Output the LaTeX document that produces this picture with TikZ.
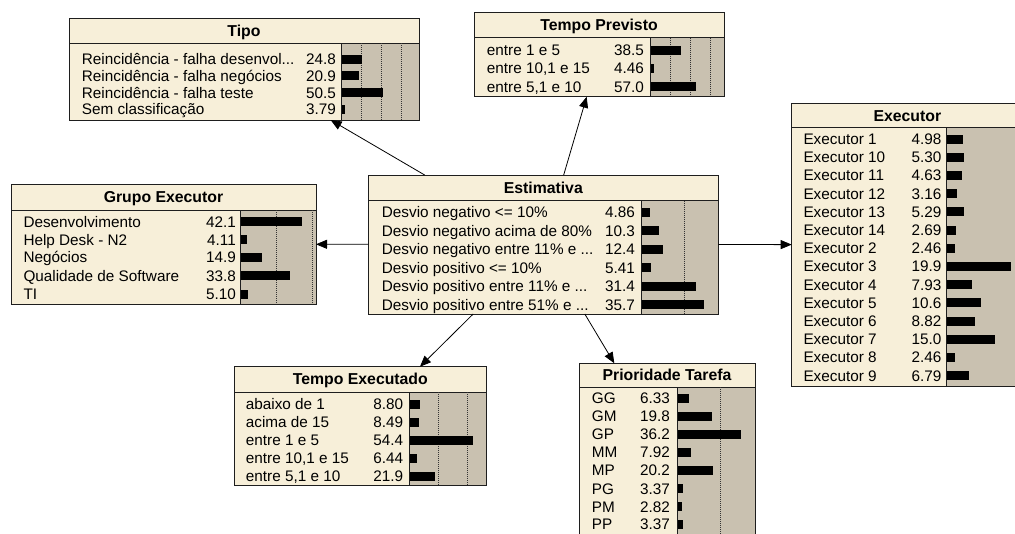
\documentclass[tikz,border=0pt]{standalone}
\usepackage{fontspec}
\setmainfont{Liberation Sans}
\usetikzlibrary{arrows.meta}
\definecolor{cream}{RGB}{247,239,217}
\definecolor{bargray}{RGB}{201,193,176}
\definecolor{edgec}{RGB}{30,30,30}
\newcommand\nbRowFont{\fontsize{15.3}{18}\selectfont}
\newcommand\nbTitleFont{\fontsize{15.8}{18}\selectfont\bfseries}
\tikzset{
  boxnode/.style={fill=cream, inner sep=0pt, outer sep=0pt, anchor=north west},
  rulel/.style={draw=edgec, line width=0.9pt},
  gridl/.style={draw=black!80, line width=0.7pt, dash pattern=on 1pt off 1pt},
  lbl/.style={anchor=base west, inner sep=0pt, font=\nbRowFont},
  numl/.style={anchor=base east, inner sep=0pt, font=\nbRowFont},
  ttl/.style={anchor=base, inner sep=0pt, font=\nbTitleFont},
  arr/.style={draw=black, line width=0.8pt, -{Triangle[length=11pt,width=9pt]}},
}
% #1 name, #2 L, #3 T, #4 R, #5 B, #6 sep, #7 bar start, #8 title
\newcommand\nbox[8]{%
  \node[boxnode, minimum width={(#4-#2)*1pt}, minimum height={(#5-#3)*1pt}] (#1) at (#2,#3) {};
  \fill[bargray] (#7,#6) rectangle (#4,#5);
  \draw[rulel] (#2,#6) -- (#4,#6);
  \draw[rulel] (#7,#6) -- (#7,#5);
  \node[ttl] (#1-title) at ({(#2+#4)/2},{(#3+#6)/2+5.6}) {#8};
}
% #1 name, #2 label x, #3 number x, #4 bar x, #5 row y, #6 label, #7 number, #8 bar length
\newcommand\brow[8]{%
  \node[lbl] (#1-l) at (#2,{#5+5.5}) {#6};
  \node[numl] (#1-n) at (#3,{#5+5.5}) {#7};
  \fill[black] (#4,{#5-4.5}) rectangle ++(#8,9);
}
\newcommand\nborder[1]{\draw[rulel] (#1.north west) rectangle (#1.south east);}
\begin{document}
\begin{tikzpicture}[x=1pt,y=-1pt]
\useasboundingbox (0,0) rectangle (1015,533);
\clip (0,0) rectangle (1015,533);
\fill[white] (0,0) rectangle (1015,533);

% Tipo
\nbox{tipo}{69}{18.3}{419}{120}{43.3}{341.7}{Tipo}
\foreach \g in {361.7,381.7,401.7} \draw[gridl] (\g,43.3) -- (\g,120);
\brow{tipo1}{81.7}{336}{342.2}{59.3}{Reincidência - falha desenvol...}{24.8}{19.8}
\brow{tipo2}{81.7}{336}{342.2}{75.9}{Reincidência - falha negócios}{20.9}{16.7}
\brow{tipo3}{81.7}{336}{342.2}{92.5}{Reincidência - falha teste}{50.5}{40.4}
\brow{tipo4}{81.7}{336}{342.2}{109}{Sem classificação}{3.79}{3.0}
\nborder{tipo}

% Tempo Previsto
\nbox{tprev}{474}{12.7}{724}{96.7}{37.7}{650}{Tempo Previsto}
\foreach \g in {670,690,710} \draw[gridl] (\g,37.7) -- (\g,96.7);
\brow{tprev1}{486.7}{644}{650.5}{50}{entre 1 e 5}{38.5}{30.8}
\brow{tprev2}{486.7}{644}{650.5}{68.3}{entre 10,1 e 15}{4.46}{3.6}
\brow{tprev3}{486.7}{644}{650.5}{86.7}{entre 5,1 e 10}{57.0}{45.6}
\nborder{tprev}

% Grupo Executor
\nbox{grupo}{11}{184}{316}{304.3}{210}{240}{Grupo Executor}
\foreach \g in {276.5,312.5} \draw[gridl] (\g,210) -- (\g,304.3);
\brow{grupo1}{23.3}{236}{240.5}{221.7}{Desenvolvimento}{42.1}{61.5}
\brow{grupo2}{23.3}{236}{240.5}{239.5}{Help Desk - N2}{4.11}{6.0}
\brow{grupo3}{23.3}{236}{240.5}{257.3}{Negócios}{14.9}{21.8}
\brow{grupo4}{23.3}{236}{240.5}{275.5}{Qualidade de Software}{33.8}{49.3}
\brow{grupo5}{23.3}{236}{240.5}{294}{TI}{5.10}{7.4}
\nborder{grupo}

% Estimativa
\nbox{est}{368.3}{175}{718.3}{314}{200.7}{641}{Estimativa}
\draw[gridl] (684.5,200.7) -- (684.5,314);
\brow{est1}{381.7}{635}{641.5}{212.3}{Desvio negativo <= 10\%}{4.86}{8.5}
\brow{est2}{381.7}{635}{641.5}{230.8}{Desvio negativo acima de 80\%}{10.3}{17.9}
\brow{est3}{381.7}{635}{641.5}{249.3}{Desvio negativo entre 11\% e ...}{12.4}{21.6}
\brow{est4}{381.7}{635}{641.5}{267.8}{Desvio positivo <= 10\%}{5.41}{9.4}
\brow{est5}{381.7}{635}{641.5}{286.3}{Desvio positivo entre 11\% e ...}{31.4}{54.6}
\brow{est6}{381.7}{635}{641.5}{304.8}{Desvio positivo entre 51\% e ...}{35.7}{62.1}
\nborder{est}

% Executor
\nbox{exec}{791.7}{103.3}{1023}{386}{127.7}{946.7}{Executor}
\brow{exec1}{803.3}{941.7}{947.2}{139}{Executor 1}{4.98}{15.8}
\brow{exec2}{803.3}{941.7}{947.2}{157.2}{Executor 10}{5.30}{16.9}
\brow{exec3}{803.3}{941.7}{947.2}{175.4}{Executor 11}{4.63}{14.7}
\brow{exec4}{803.3}{941.7}{947.2}{193.6}{Executor 12}{3.16}{10.0}
\brow{exec5}{803.3}{941.7}{947.2}{211.8}{Executor 13}{5.29}{16.8}
\brow{exec6}{803.3}{941.7}{947.2}{230}{Executor 14}{2.69}{8.6}
\brow{exec7}{803.3}{941.7}{947.2}{248.2}{Executor 2}{2.46}{7.8}
\brow{exec8}{803.3}{941.7}{947.2}{266.4}{Executor 3}{19.9}{63.3}
\brow{exec9}{803.3}{941.7}{947.2}{284.6}{Executor 4}{7.93}{25.2}
\brow{exec10}{803.3}{941.7}{947.2}{302.8}{Executor 5}{10.6}{33.7}
\brow{exec11}{803.3}{941.7}{947.2}{321}{Executor 6}{8.82}{28.0}
\brow{exec12}{803.3}{941.7}{947.2}{339.2}{Executor 7}{15.0}{47.7}
\brow{exec13}{803.3}{941.7}{947.2}{357.4}{Executor 8}{2.46}{7.8}
\brow{exec14}{803.3}{941.7}{947.2}{375.6}{Executor 9}{6.79}{21.6}
\nborder{exec}

% Tempo Executado
\nbox{texec}{234}{366.7}{486.7}{485}{392}{409}{Tempo Executado}
\foreach \g in {438,467} \draw[gridl] (\g,392) -- (\g,485);
\brow{texec1}{245.7}{403.3}{409.5}{404.3}{abaixo de 1}{8.80}{10.2}
\brow{texec2}{245.7}{403.3}{409.5}{422.3}{acima de 15}{8.49}{9.9}
\brow{texec3}{245.7}{403.3}{409.5}{440.3}{entre 1 e 5}{54.4}{63.1}
\brow{texec4}{245.7}{403.3}{409.5}{458.3}{entre 10,1 e 15}{6.44}{7.5}
\brow{texec5}{245.7}{403.3}{409.5}{476.3}{entre 5,1 e 10}{21.9}{25.4}
\nborder{texec}

% Prioridade Tarefa
\nbox{prio}{579}{363.3}{755}{540}{387.3}{677}{Prioridade Tarefa}
\draw[gridl] (720.5,387.3) -- (720.5,540);
\brow{prio1}{591.7}{670}{677.5}{398}{GG}{6.33}{11.0}
\brow{prio2}{591.7}{670}{677.5}{416.1}{GM}{19.8}{34.5}
\brow{prio3}{591.7}{670}{677.5}{434.2}{GP}{36.2}{63.0}
\brow{prio4}{591.7}{670}{677.5}{452.3}{MM}{7.92}{13.8}
\brow{prio5}{591.7}{670}{677.5}{470.4}{MP}{20.2}{35.1}
\brow{prio6}{591.7}{670}{677.5}{488.5}{PG}{3.37}{5.9}
\brow{prio7}{591.7}{670}{677.5}{506.6}{PM}{2.82}{4.9}
\brow{prio8}{591.7}{670}{677.5}{524.4}{PP}{3.37}{5.9}
\nborder{prio}

% connectors
\draw[arr] (est) -- (tipo);
\draw[arr] (est) -- (tprev);
\draw[arr] (est) -- (grupo);
\draw[arr] (est) -- (exec);
\draw[arr] (est) -- (texec);
\draw[arr] (est) -- (prio);
\end{tikzpicture}
\end{document}
